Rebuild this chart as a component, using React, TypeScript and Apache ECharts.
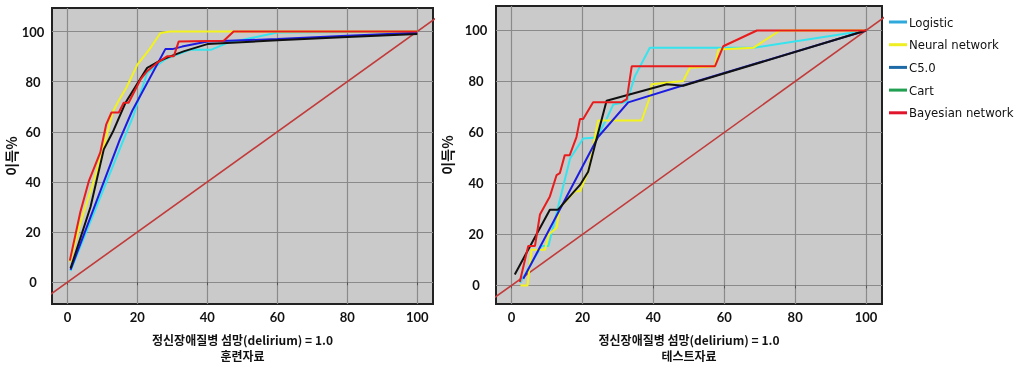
import React, { useEffect, useRef } from "react";
import * as echarts from "echarts";

const seriesNames = ["Logistic", "Neural network", "C5.0", "Cart", "Bayesian network"];
const lineColors = ["#35e4ee", "#f2f21c", "#1c1ce0", "#111111", "#e81c1c"];
const legendColors = ["#2fa8dc", "#eeee22", "#1e6aa6", "#22a052", "#e0142a"];
const tickValues = [0, 20, 40, 60, 80, 100];
const diagonal = [[-20, -20], [120, 120]];

const trainLogistic = [[0.9, 4.5], [15.5, 55], [19, 67], [22.8, 83.5], [28, 89], [35, 92.7], [41, 92.7], [45.6, 95.4], [60, 99.6], [100, 100]];
const trainNeural = [[0.7, 8.2], [4, 25], [7, 38], [10, 52], [13, 68], [14.5, 72], [17, 78], [20, 86.8], [23.5, 93], [26.6, 99.4], [29.4, 100], [47, 100], [100, 100]];
const trainC50 = [[0.9, 4.9], [15, 57], [18.5, 68.3], [28, 93], [30, 93], [32.8, 94], [40, 96], [60, 97], [80, 98.3], [100, 99.5]];
const trainCart = [[0.9, 5.5], [6.6, 30], [10.4, 53], [13, 60], [16.6, 71.6], [22.8, 85.5], [23.7, 86.2], [26.1, 88.1], [29.4, 90.1], [33.2, 92.1], [40, 95], [60, 96.5], [80, 97.8], [100, 99]];
const trainBayes = [[0.7, 8.6], [3.7, 28], [6.1, 40.2], [9.4, 51.8], [11.1, 63], [12.6, 67.7], [14.7, 67.7], [16.1, 71.6], [17.5, 71.6], [20.9, 80.9], [22.8, 84.2], [25.6, 87.5], [28.5, 90.1], [30.4, 90.1], [31.8, 96], [44.7, 96.3], [47.5, 100], [100, 100]];

const testLogistic = [[2.5, 1], [3.3, 3.2], [8.5, 15.5], [10.4, 15.5], [16.5, 49.8], [20.2, 57.6], [24, 58], [26.8, 65.3], [28.7, 71], [32.5, 72], [34.8, 82.1], [39, 93.2], [68.2, 93.2], [100, 100]];
const testNeural = [[2.5, 0], [4.5, 0], [5.6, 14], [9.4, 14], [10.5, 20], [12.7, 22.6], [13.6, 30.4], [17.9, 36.9], [19.3, 36.9], [21.6, 44.6], [24.4, 64.7], [36.7, 64.7], [39, 73.8], [39.5, 78.9], [48.4, 80.2], [50.3, 85.4], [57.4, 86], [58.3, 92.5], [68.2, 93.2], [75.7, 100], [100, 100]];
const testC50 = [[3.3, 2.6], [24.4, 58.2], [32.9, 71.8], [49.4, 78.9], [100, 100]];
const testCart = [[0.9, 4.3], [10.8, 29.7], [13.1, 29.7], [19.3, 39.4], [21.6, 44.6], [24, 57.6], [26.8, 72.4], [43.8, 78.9], [48.4, 78.3], [100, 100]];
const testBayes = [[2.3, 1.3], [4.7, 15.5], [6.6, 15.5], [8, 27.8], [10.8, 34.9], [12.7, 43.3], [13.6, 44], [15, 51.1], [16.4, 51.1], [18.3, 58.2], [19.3, 65.3], [20.2, 65.3], [23, 71.8], [31, 71.8], [32.5, 73.1], [33.9, 86], [57.4, 86], [59.7, 93.8], [69.2, 100], [100, 100]];

const trainData = [trainLogistic, trainNeural, trainC50, trainCart, trainBayes];
const testData = [testLogistic, testNeural, testC50, testCart, testBayes];

const xTitleTrain = "정신장애질병 섬망(delirium) = 1.0\n훈련자료";
const xTitleTest = "정신장애질병 섬망(delirium) = 1.0\n테스트자료";
const yTitle = "이득%";

const numFont = "Lato, 'Noto Sans', sans-serif";
const legendFont = "'Liberation Sans Narrow', 'DejaVu Sans Condensed', Lato, sans-serif";
const korFont = "'Noto Sans CJK KR', 'Noto Sans', sans-serif";

function App() {
  const ref = useRef<HTMLDivElement>(null);
  useEffect(() => {
    if (!ref.current) return;
    const chart = echarts.init(ref.current, null, { renderer: "svg" });

    const xAxisBase = (gridIndex: number, name: string) => ({
      type: "value",
      gridIndex,
      min: -4.4,
      max: 104.5,
      name,
      nameLocation: "middle",
      nameGap: 27,
      nameTextStyle: { fontFamily: korFont, fontWeight: "bold", fontSize: 12, color: "#111", lineHeight: 16 },
      axisLine: { show: false },
      axisTick: { show: true, customValues: tickValues, length: 3, lineStyle: { color: "#555" } },
      axisLabel: { customValues: tickValues, fontFamily: numFont, fontWeight: "bold", fontSize: 13, color: "#111", margin: 6 },
      splitLine: { show: true, lineStyle: { color: "#8a8a8a", width: 1.2 } },
    });
    const yAxisBase = (gridIndex: number, min: number, max: number, nameGap: number, margin: number) => ({
      type: "value",
      gridIndex,
      min,
      max,
      name: yTitle,
      nameLocation: "middle",
      nameRotate: 90,
      nameGap,
      nameTextStyle: { fontFamily: korFont, fontWeight: "bold", fontSize: 14, color: "#111" },
      axisLine: { show: false },
      axisTick: { show: false, customValues: tickValues },
      axisLabel: { customValues: tickValues, fontFamily: numFont, fontWeight: "bold", fontSize: 13, color: "#111", margin, align: "center" },
      splitLine: { show: true, lineStyle: { color: "#8a8a8a", width: 1.2 } },
    });

    const series: any[] = [];
    [0, 1].forEach((g) => {
      series.push({
        type: "line",
        name: "diag",
        xAxisIndex: g,
        yAxisIndex: g,
        data: diagonal,
        showSymbol: false,
        clip: true,
        lineStyle: { color: "#c23a3a", width: 1.6 },
        silent: true,
        z: 2,
      });
      const sets = g === 0 ? trainData : testData;
      sets.forEach((d, i) => {
        series.push({
          type: "line",
          name: seriesNames[i],
          xAxisIndex: g,
          yAxisIndex: g,
          data: d,
          showSymbol: false,
          clip: true,
          color: lineColors[i],
          lineStyle: { color: lineColors[i], width: 2 },
          z: 3 + i,
        });
      });
    });

    chart.setOption({
      animation: false,
      grid: [
        { left: 52, top: 8, width: 381, height: 298, show: true, backgroundColor: "#cacaca", borderColor: "#222", borderWidth: 2 },
        { left: 496, top: 6, width: 386, height: 301, show: true, backgroundColor: "#cacaca", borderColor: "#222", borderWidth: 2 },
      ],
      xAxis: [xAxisBase(0, xTitleTrain), xAxisBase(1, xTitleTest)],
      yAxis: [yAxisBase(0, -8.7, 109.4, 29, 19), yAxisBase(1, -7.3, 109.6, 42, 20)],
      legend: {
        show: true,
        orient: "vertical",
        left: 889,
        top: 15,
        width: 130,
        padding: 0,
        icon: "rect",
        itemWidth: 18,
        itemHeight: 3,
        itemGap: 8.7,
        textStyle: { fontFamily: legendFont, fontSize: 13, color: "#111", lineHeight: 14, padding: [0, 0, 0, -3], overflow: "none" },
        data: seriesNames.map((n, i) => ({ name: n, itemStyle: { color: legendColors[i] } })),
      },
      series,
    });
    return () => chart.dispose();
  }, []);
  return <div ref={ref} style={{ position: "fixed", left: 0, top: 0, width: 1014, height: 368 }} />;
}

export default App;
